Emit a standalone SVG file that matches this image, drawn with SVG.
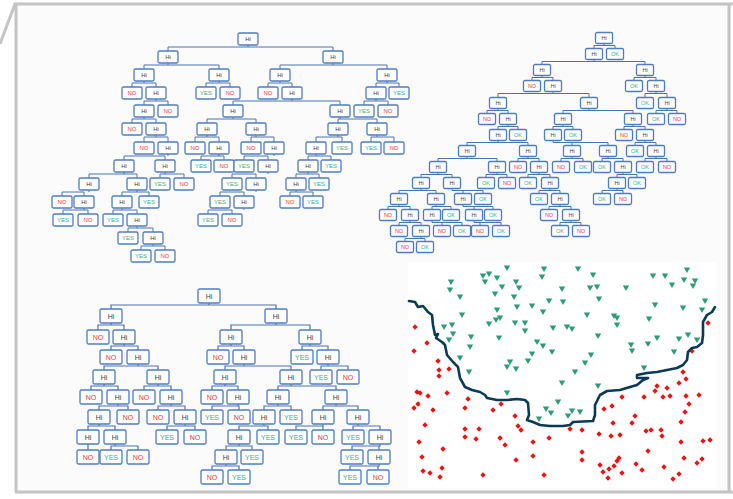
<svg xmlns="http://www.w3.org/2000/svg" xmlns:xlink="http://www.w3.org/1999/xlink" width="733" height="499" viewBox="0 0 733 499">
<style>
text{font-family:"Liberation Sans",Arial,sans-serif;text-anchor:middle;dominant-baseline:central}
.t1 text{font-size:6px}.t2 text{font-size:5.5px}.t3 text{font-size:7px}
.h{fill:#3a3a3a}.r{fill:#ff3434}.g{fill:#35b08a}
.bx{fill:#fff;stroke:#4d7cc2;stroke-width:1.3}
.c{fill:none;stroke:#4a74b4;stroke-width:1}
.fr{fill:none;stroke:#c4c4c4;stroke-width:3}
.tri{fill:#2a9d78}.dia{fill:#f21010}
</style>
<defs>
<rect id="b1" class="bx" x="-10" y="-6" width="20" height="12" rx="1.5"/>
<rect id="b2" class="bx" x="-8.5" y="-5.5" width="17" height="11" rx="1.5"/>
<rect id="b3" class="bx" x="-11" y="-7" width="22" height="14" rx="1.5"/>
<path id="tv" d="M-3.2,-2.6H3.2L0,2.9Z"/>
<path id="dm" d="M0,-2.7L2.7,0L0,2.7L-2.7,0Z"/>
</defs>
<rect width="733" height="499" fill="#fff"/>
<rect x="16" y="4" width="712" height="488" fill="#fbfbfb"/>
<rect x="408" y="262" width="309" height="226" fill="#fff"/>
<g id="frame" class="fr">
<path d="M0 44L15 4H733M16 4V492M15 492H733M729 4V492"/>
</g>

<g id="connectors-tree1" class="c">
<path d="M248 45V47M168 51V47H333V51"/>
<path d="M168 63V65M144 69V65H219V69"/>
<path d="M333 63V65M280 69V65H387V69"/>
<path d="M144 81V83M132 87V83H156V87"/>
<path d="M219 81V83M206 87V83H230V87"/>
<path d="M280 81V83M268 87V83H292V87"/>
<path d="M387 81V83M376 87V83H399V87"/>
<path d="M156 99V101M144 105V101H168V105"/>
<path d="M292 99V101M233 105V101H340V105"/>
<path d="M376 99V101M364 105V101H388V105"/>
<path d="M144 117V119M132 123V119H156V123"/>
<path d="M233 117V119M207 123V119H256V123"/>
<path d="M340 117V119M338 123V119H377V123"/>
<path d="M156 135V137M144 142V137H168V142"/>
<path d="M207 135V137M195 142V137H219V142"/>
<path d="M256 135V137M251 142V137H274V142"/>
<path d="M338 135V137M316 142V137H342V142"/>
<path d="M377 135V137M371 142V137H394V142"/>
<path d="M168 154V156M124 160V156H165V160"/>
<path d="M219 154V156M201 160V156H224V160"/>
<path d="M274 154V156M244 160V156H268V160"/>
<path d="M316 154V156M308 160V156H331V160"/>
<path d="M124 172V174M89 178V174H137V178"/>
<path d="M165 172V174M160 178V174H184V178"/>
<path d="M268 172V174M232 178V174H256V178"/>
<path d="M308 172V174M296 178V174H319V178"/>
<path d="M89 190V192M62 196V192H84V196"/>
<path d="M137 190V192M122 196V192H149V196"/>
<path d="M256 190V192M220 196V192H244V196"/>
<path d="M296 190V192M290 196V192H313V196"/>
<path d="M84 208V210M63 214V210H88V214"/>
<path d="M122 208V210M113 214V210H137V214"/>
<path d="M244 208V210M208 214V210H232V214"/>
<path d="M137 226V228M128 232V228H153V232"/>
<path d="M153 244V246M141 250V246H165V250"/>
</g>

<g id="connectors-tree2" class="c">
<path d="M604 43.5V45.5M594 48.5V45.5H615V48.5"/>
<path d="M594 59.5V61.5M542 64.5V61.5H645V64.5"/>
<path d="M542 75.5V77.5M532 80.5V77.5H553V80.5"/>
<path d="M645 75.5V77.5M634 80.5V77.5H656V80.5"/>
<path d="M553 91.5V93.5M498 97.5V93.5H589V97.5"/>
<path d="M656 91.5V93.5M645 97.5V93.5H667V97.5"/>
<path d="M498 108.5V110.5M487 113.5V110.5H508V113.5"/>
<path d="M589 108.5V110.5M563 113.5V110.5H633V113.5"/>
<path d="M667 108.5V110.5M656 113.5V110.5H677V113.5"/>
<path d="M508 124.5V126.5M498 129.5V126.5H518V129.5"/>
<path d="M563 124.5V126.5M553 129.5V126.5H573V129.5"/>
<path d="M633 124.5V126.5M624 129.5V126.5H645V129.5"/>
<path d="M498 140.5V142.5M467 145.5V142.5H528V145.5"/>
<path d="M553 140.5V142.5H608V145.5M572 142.5V145.5"/>
<path d="M645 140.5V142.5M635 145.5V142.5H656V145.5"/>
<path d="M467 156.5V158.5M438 161.5V158.5H497V161.5"/>
<path d="M528 156.5V158.5M518 161.5V158.5H539V161.5"/>
<path d="M572 156.5V158.5M561 161.5V158.5H583V161.5"/>
<path d="M608 156.5V158.5M602 161.5V158.5H623V161.5"/>
<path d="M656 156.5V158.5M645 161.5V158.5H667V161.5"/>
<path d="M438 172.5V174.5M421 177.5V174.5H452V177.5"/>
<path d="M497 172.5V174.5M486 177.5V174.5H507V177.5"/>
<path d="M539 172.5V174.5M528 177.5V174.5H550V177.5"/>
<path d="M623 172.5V174.5M617 177.5V174.5H637V177.5"/>
<path d="M421 188.5V190.5M399 193.5V190.5H436V193.5"/>
<path d="M452 188.5V190.5H483V193.5M463 190.5V193.5"/>
<path d="M550 188.5V190.5M539 193.5V190.5H560V193.5"/>
<path d="M617 188.5V190.5M602 193.5V190.5H623V193.5"/>
<path d="M399 204.5V206.5M388 209.5V206.5H410V209.5"/>
<path d="M436 204.5V206.5M432 209.5V206.5H451V209.5"/>
<path d="M463 204.5V206.5H493V209.5M474 206.5V209.5"/>
<path d="M560 204.5V206.5M549 209.5V206.5H571V209.5"/>
<path d="M410 220.5V222.5M399 225.5V222.5H421V225.5"/>
<path d="M432 220.5V222.5H462V225.5M442 222.5V225.5"/>
<path d="M474 220.5V222.5H501V225.5M480 222.5V225.5"/>
<path d="M571 220.5V222.5M560 225.5V222.5H581V225.5"/>
<path d="M421 236.5V238.5M405 241.5V238.5H425V241.5"/>
</g>

<g id="connectors-tree3" class="c" style="stroke-width:1.2">
<path d="M209 303V305M111 309V305H276V309"/>
<path d="M111 323V325M98 330V325H124V330"/>
<path d="M276 323V325M231 330V325H310V330"/>
<path d="M124 344V346M111 350V346H138V350"/>
<path d="M231 344V346M218 350V346H244V350"/>
<path d="M310 344V346M302 350V346H328V350"/>
<path d="M138 364V366M104 370V366H158V370"/>
<path d="M244 364V366M225 370V366H291V370"/>
<path d="M328 364V366M321 370V366H348V370"/>
<path d="M104 384V386M91 390V386H118V390"/>
<path d="M158 384V386M144 390V386H171V390"/>
<path d="M225 384V386M212 390V386H238V390"/>
<path d="M291 384V386M278 390V386H336V390"/>
<path d="M118 404V406M99 410V406H128V410"/>
<path d="M171 404V406M158 410V406H185V410"/>
<path d="M238 404V406M212 410V406H239V410"/>
<path d="M278 404V406M264 410V406H291V410"/>
<path d="M336 404V406M323 410V406H358V410"/>
<path d="M99 424V426M88 430V426H115V430"/>
<path d="M185 424V426M167 430V426H195V430"/>
<path d="M264 424V426M239 430V426H268V430"/>
<path d="M323 424V426M296 430V426H323V430"/>
<path d="M358 424V426M353 430V426H380V430"/>
<path d="M88 444V450"/>
<path d="M115 444V446M111 450V446H138V450"/>
<path d="M239 444V446M226 450V446H252V450"/>
<path d="M380 444V446H352V450M379 446V450"/>
<path d="M226 464V466M212 470V466H239V470"/>
<path d="M379 464V466H350V470M378 466V470"/>
</g>

<g id="tree1" class="t1">
<g id="t1-1" transform="translate(248,39)"><use href="#b1"/><text class="h">Hi</text></g>
<g id="t1-2" transform="translate(168,57)"><use href="#b1"/><text class="h">Hi</text></g>
<g id="t1-3" transform="translate(333,57)"><use href="#b1"/><text class="h">Hi</text></g>
<g id="t1-4" transform="translate(144,75)"><use href="#b1"/><text class="h">Hi</text></g>
<g id="t1-5" transform="translate(219,75)"><use href="#b1"/><text class="h">Hi</text></g>
<g id="t1-6" transform="translate(280,75)"><use href="#b1"/><text class="h">Hi</text></g>
<g id="t1-7" transform="translate(387,75)"><use href="#b1"/><text class="h">Hi</text></g>
<g id="t1-8" transform="translate(132,93)"><use href="#b1"/><text class="r">NO</text></g>
<g id="t1-9" transform="translate(156,93)"><use href="#b1"/><text class="h">Hi</text></g>
<g id="t1-10" transform="translate(206,93)"><use href="#b1"/><text class="g">YES</text></g>
<g id="t1-11" transform="translate(230,93)"><use href="#b1"/><text class="r">NO</text></g>
<g id="t1-12" transform="translate(268,93)"><use href="#b1"/><text class="r">NO</text></g>
<g id="t1-13" transform="translate(292,93)"><use href="#b1"/><text class="h">Hi</text></g>
<g id="t1-14" transform="translate(376,93)"><use href="#b1"/><text class="h">Hi</text></g>
<g id="t1-15" transform="translate(399,93)"><use href="#b1"/><text class="g">YES</text></g>
<g id="t1-16" transform="translate(144,111)"><use href="#b1"/><text class="h">Hi</text></g>
<g id="t1-17" transform="translate(168,111)"><use href="#b1"/><text class="r">NO</text></g>
<g id="t1-18" transform="translate(233,111)"><use href="#b1"/><text class="h">Hi</text></g>
<g id="t1-19" transform="translate(340,111)"><use href="#b1"/><text class="h">Hi</text></g>
<g id="t1-20" transform="translate(364,111)"><use href="#b1"/><text class="g">YES</text></g>
<g id="t1-21" transform="translate(388,111)"><use href="#b1"/><text class="r">NO</text></g>
<g id="t1-22" transform="translate(132,129)"><use href="#b1"/><text class="r">NO</text></g>
<g id="t1-23" transform="translate(156,129)"><use href="#b1"/><text class="h">Hi</text></g>
<g id="t1-24" transform="translate(207,129)"><use href="#b1"/><text class="h">Hi</text></g>
<g id="t1-25" transform="translate(256,129)"><use href="#b1"/><text class="h">Hi</text></g>
<g id="t1-26" transform="translate(338,129)"><use href="#b1"/><text class="h">Hi</text></g>
<g id="t1-27" transform="translate(377,129)"><use href="#b1"/><text class="h">Hi</text></g>
<g id="t1-28" transform="translate(144,148)"><use href="#b1"/><text class="r">NO</text></g>
<g id="t1-29" transform="translate(168,148)"><use href="#b1"/><text class="h">Hi</text></g>
<g id="t1-30" transform="translate(195,148)"><use href="#b1"/><text class="r">NO</text></g>
<g id="t1-31" transform="translate(219,148)"><use href="#b1"/><text class="h">Hi</text></g>
<g id="t1-32" transform="translate(251,148)"><use href="#b1"/><text class="r">NO</text></g>
<g id="t1-33" transform="translate(274,148)"><use href="#b1"/><text class="h">Hi</text></g>
<g id="t1-34" transform="translate(316,148)"><use href="#b1"/><text class="h">Hi</text></g>
<g id="t1-35" transform="translate(342,148)"><use href="#b1"/><text class="g">YES</text></g>
<g id="t1-36" transform="translate(371,148)"><use href="#b1"/><text class="g">YES</text></g>
<g id="t1-37" transform="translate(394,148)"><use href="#b1"/><text class="r">NO</text></g>
<g id="t1-38" transform="translate(124,166)"><use href="#b1"/><text class="h">Hi</text></g>
<g id="t1-39" transform="translate(165,166)"><use href="#b1"/><text class="h">Hi</text></g>
<g id="t1-40" transform="translate(201,166)"><use href="#b1"/><text class="g">YES</text></g>
<g id="t1-41" transform="translate(224,166)"><use href="#b1"/><text class="r">NO</text></g>
<g id="t1-42" transform="translate(244,166)"><use href="#b1"/><text class="g">YES</text></g>
<g id="t1-43" transform="translate(268,166)"><use href="#b1"/><text class="h">Hi</text></g>
<g id="t1-44" transform="translate(308,166)"><use href="#b1"/><text class="h">Hi</text></g>
<g id="t1-45" transform="translate(331,166)"><use href="#b1"/><text class="g">YES</text></g>
<g id="t1-46" transform="translate(89,184)"><use href="#b1"/><text class="h">Hi</text></g>
<g id="t1-47" transform="translate(137,184)"><use href="#b1"/><text class="h">Hi</text></g>
<g id="t1-48" transform="translate(160,184)"><use href="#b1"/><text class="g">YES</text></g>
<g id="t1-49" transform="translate(184,184)"><use href="#b1"/><text class="r">NO</text></g>
<g id="t1-50" transform="translate(232,184)"><use href="#b1"/><text class="g">YES</text></g>
<g id="t1-51" transform="translate(256,184)"><use href="#b1"/><text class="h">Hi</text></g>
<g id="t1-52" transform="translate(296,184)"><use href="#b1"/><text class="h">Hi</text></g>
<g id="t1-53" transform="translate(319,184)"><use href="#b1"/><text class="g">YES</text></g>
<g id="t1-54" transform="translate(62,202)"><use href="#b1"/><text class="r">NO</text></g>
<g id="t1-55" transform="translate(84,202)"><use href="#b1"/><text class="h">Hi</text></g>
<g id="t1-56" transform="translate(122,202)"><use href="#b1"/><text class="h">Hi</text></g>
<g id="t1-57" transform="translate(149,202)"><use href="#b1"/><text class="g">YES</text></g>
<g id="t1-58" transform="translate(220,202)"><use href="#b1"/><text class="g">YES</text></g>
<g id="t1-59" transform="translate(244,202)"><use href="#b1"/><text class="h">Hi</text></g>
<g id="t1-60" transform="translate(290,202)"><use href="#b1"/><text class="r">NO</text></g>
<g id="t1-61" transform="translate(313,202)"><use href="#b1"/><text class="g">YES</text></g>
<g id="t1-62" transform="translate(63,220)"><use href="#b1"/><text class="g">YES</text></g>
<g id="t1-63" transform="translate(88,220)"><use href="#b1"/><text class="r">NO</text></g>
<g id="t1-64" transform="translate(113,220)"><use href="#b1"/><text class="g">YES</text></g>
<g id="t1-65" transform="translate(137,220)"><use href="#b1"/><text class="h">Hi</text></g>
<g id="t1-66" transform="translate(208,220)"><use href="#b1"/><text class="g">YES</text></g>
<g id="t1-67" transform="translate(232,220)"><use href="#b1"/><text class="r">NO</text></g>
<g id="t1-68" transform="translate(128,238)"><use href="#b1"/><text class="g">YES</text></g>
<g id="t1-69" transform="translate(153,238)"><use href="#b1"/><text class="h">Hi</text></g>
<g id="t1-70" transform="translate(141,256)"><use href="#b1"/><text class="g">YES</text></g>
<g id="t1-71" transform="translate(165,256)"><use href="#b1"/><text class="r">NO</text></g>
</g>

<g id="tree2" class="t2">
<g id="t2-a" transform="translate(604,38)"><use href="#b2"/><text class="h">Hi</text></g>
<g id="t2-b" transform="translate(594,54)"><use href="#b2"/><text class="h">Hi</text></g>
<g id="t2-c" transform="translate(615,54)"><use href="#b2"/><text class="g">OK</text></g>
<g id="t2-d" transform="translate(542,70)"><use href="#b2"/><text class="h">Hi</text></g>
<g id="t2-e" transform="translate(645,70)"><use href="#b2"/><text class="h">Hi</text></g>
<g id="t2-f" transform="translate(532,86)"><use href="#b2"/><text class="r">NO</text></g>
<g id="t2-g" transform="translate(553,86)"><use href="#b2"/><text class="h">Hi</text></g>
<g id="t2-h" transform="translate(634,86)"><use href="#b2"/><text class="g">OK</text></g>
<g id="t2-i" transform="translate(656,86)"><use href="#b2"/><text class="h">Hi</text></g>
<g id="t2-j" transform="translate(498,103)"><use href="#b2"/><text class="h">Hi</text></g>
<g id="t2-k" transform="translate(589,103)"><use href="#b2"/><text class="h">Hi</text></g>
<g id="t2-l" transform="translate(645,103)"><use href="#b2"/><text class="g">OK</text></g>
<g id="t2-m" transform="translate(667,103)"><use href="#b2"/><text class="h">Hi</text></g>
<g id="t2-n" transform="translate(487,119)"><use href="#b2"/><text class="r">NO</text></g>
<g id="t2-o" transform="translate(508,119)"><use href="#b2"/><text class="h">Hi</text></g>
<g id="t2-p" transform="translate(563,119)"><use href="#b2"/><text class="h">Hi</text></g>
<g id="t2-q" transform="translate(633,119)"><use href="#b2"/><text class="h">Hi</text></g>
<g id="t2-r" transform="translate(656,119)"><use href="#b2"/><text class="g">OK</text></g>
<g id="t2-s" transform="translate(677,119)"><use href="#b2"/><text class="r">NO</text></g>
<g id="t2-t" transform="translate(498,135)"><use href="#b2"/><text class="h">Hi</text></g>
<g id="t2-u" transform="translate(518,135)"><use href="#b2"/><text class="g">OK</text></g>
<g id="t2-v" transform="translate(553,135)"><use href="#b2"/><text class="h">Hi</text></g>
<g id="t2-w" transform="translate(573,135)"><use href="#b2"/><text class="g">OK</text></g>
<g id="t2-x" transform="translate(624,135)"><use href="#b2"/><text class="r">NO</text></g>
<g id="t2-y" transform="translate(645,135)"><use href="#b2"/><text class="h">Hi</text></g>
<g id="t2-A" transform="translate(467,151)"><use href="#b2"/><text class="h">Hi</text></g>
<g id="t2-B" transform="translate(528,151)"><use href="#b2"/><text class="h">Hi</text></g>
<g id="t2-C" transform="translate(572,151)"><use href="#b2"/><text class="h">Hi</text></g>
<g id="t2-D" transform="translate(608,151)"><use href="#b2"/><text class="h">Hi</text></g>
<g id="t2-E" transform="translate(635,151)"><use href="#b2"/><text class="g">OK</text></g>
<g id="t2-F" transform="translate(656,151)"><use href="#b2"/><text class="h">Hi</text></g>
<g id="t2-G" transform="translate(438,167)"><use href="#b2"/><text class="h">Hi</text></g>
<g id="t2-H" transform="translate(497,167)"><use href="#b2"/><text class="h">Hi</text></g>
<g id="t2-I" transform="translate(518,167)"><use href="#b2"/><text class="r">NO</text></g>
<g id="t2-J" transform="translate(539,167)"><use href="#b2"/><text class="h">Hi</text></g>
<g id="t2-K" transform="translate(561,167)"><use href="#b2"/><text class="r">NO</text></g>
<g id="t2-L" transform="translate(583,167)"><use href="#b2"/><text class="g">OK</text></g>
<g id="t2-M" transform="translate(602,167)"><use href="#b2"/><text class="g">OK</text></g>
<g id="t2-N" transform="translate(623,167)"><use href="#b2"/><text class="h">Hi</text></g>
<g id="t2-O" transform="translate(645,167)"><use href="#b2"/><text class="g">OK</text></g>
<g id="t2-P" transform="translate(667,167)"><use href="#b2"/><text class="r">NO</text></g>
<g id="t2-Q" transform="translate(421,183)"><use href="#b2"/><text class="h">Hi</text></g>
<g id="t2-R" transform="translate(452,183)"><use href="#b2"/><text class="h">Hi</text></g>
<g id="t2-S" transform="translate(486,183)"><use href="#b2"/><text class="g">OK</text></g>
<g id="t2-T" transform="translate(507,183)"><use href="#b2"/><text class="r">NO</text></g>
<g id="t2-U" transform="translate(528,183)"><use href="#b2"/><text class="g">OK</text></g>
<g id="t2-V" transform="translate(550,183)"><use href="#b2"/><text class="h">Hi</text></g>
<g id="t2-W" transform="translate(617,183)"><use href="#b2"/><text class="h">Hi</text></g>
<g id="t2-X" transform="translate(637,183)"><use href="#b2"/><text class="g">OK</text></g>
<g id="t2-Y" transform="translate(399,199)"><use href="#b2"/><text class="h">Hi</text></g>
<g id="t2-Z" transform="translate(436,199)"><use href="#b2"/><text class="h">Hi</text></g>
<g id="t2-AA" transform="translate(463,199)"><use href="#b2"/><text class="h">Hi</text></g>
<g id="t2-AB" transform="translate(483,199)"><use href="#b2"/><text class="g">OK</text></g>
<g id="t2-AC" transform="translate(539,199)"><use href="#b2"/><text class="g">OK</text></g>
<g id="t2-AD" transform="translate(560,199)"><use href="#b2"/><text class="h">Hi</text></g>
<g id="t2-AE" transform="translate(602,199)"><use href="#b2"/><text class="g">OK</text></g>
<g id="t2-AF" transform="translate(623,199)"><use href="#b2"/><text class="r">NO</text></g>
<g id="t2-AG" transform="translate(388,215)"><use href="#b2"/><text class="r">NO</text></g>
<g id="t2-AH" transform="translate(410,215)"><use href="#b2"/><text class="h">Hi</text></g>
<g id="t2-AI" transform="translate(432,215)"><use href="#b2"/><text class="h">Hi</text></g>
<g id="t2-AJ" transform="translate(451,215)"><use href="#b2"/><text class="g">OK</text></g>
<g id="t2-AK" transform="translate(474,215)"><use href="#b2"/><text class="h">Hi</text></g>
<g id="t2-AL" transform="translate(493,215)"><use href="#b2"/><text class="g">OK</text></g>
<g id="t2-AM" transform="translate(549,215)"><use href="#b2"/><text class="r">NO</text></g>
<g id="t2-AN" transform="translate(571,215)"><use href="#b2"/><text class="h">Hi</text></g>
<g id="t2-AO" transform="translate(399,231)"><use href="#b2"/><text class="r">NO</text></g>
<g id="t2-AP" transform="translate(421,231)"><use href="#b2"/><text class="h">Hi</text></g>
<g id="t2-AQ" transform="translate(442,231)"><use href="#b2"/><text class="r">NO</text></g>
<g id="t2-AR" transform="translate(462,231)"><use href="#b2"/><text class="g">OK</text></g>
<g id="t2-AS" transform="translate(480,231)"><use href="#b2"/><text class="r">NO</text></g>
<g id="t2-AT" transform="translate(501,231)"><use href="#b2"/><text class="g">OK</text></g>
<g id="t2-AU" transform="translate(560,231)"><use href="#b2"/><text class="g">OK</text></g>
<g id="t2-AV" transform="translate(581,231)"><use href="#b2"/><text class="r">NO</text></g>
<g id="t2-AW" transform="translate(405,247)"><use href="#b2"/><text class="r">NO</text></g>
<g id="t2-AX" transform="translate(425,247)"><use href="#b2"/><text class="g">OK</text></g>
</g>

<g id="tree3" class="t3">
<g id="t3-1" transform="translate(209,296)"><use href="#b3"/><text class="h">Hi</text></g>
<g id="t3-2" transform="translate(111,316)"><use href="#b3"/><text class="h">Hi</text></g>
<g id="t3-3" transform="translate(276,316)"><use href="#b3"/><text class="h">Hi</text></g>
<g id="t3-4" transform="translate(98,337)"><use href="#b3"/><text class="r">NO</text></g>
<g id="t3-5" transform="translate(124,337)"><use href="#b3"/><text class="h">Hi</text></g>
<g id="t3-6" transform="translate(231,337)"><use href="#b3"/><text class="h">Hi</text></g>
<g id="t3-7" transform="translate(310,337)"><use href="#b3"/><text class="h">Hi</text></g>
<g id="t3-8" transform="translate(111,357)"><use href="#b3"/><text class="r">NO</text></g>
<g id="t3-9" transform="translate(138,357)"><use href="#b3"/><text class="h">Hi</text></g>
<g id="t3-10" transform="translate(218,357)"><use href="#b3"/><text class="r">NO</text></g>
<g id="t3-11" transform="translate(244,357)"><use href="#b3"/><text class="h">Hi</text></g>
<g id="t3-12" transform="translate(302,357)"><use href="#b3"/><text class="g">YES</text></g>
<g id="t3-13" transform="translate(328,357)"><use href="#b3"/><text class="h">Hi</text></g>
<g id="t3-14" transform="translate(104,377)"><use href="#b3"/><text class="h">Hi</text></g>
<g id="t3-15" transform="translate(158,377)"><use href="#b3"/><text class="h">Hi</text></g>
<g id="t3-16" transform="translate(225,377)"><use href="#b3"/><text class="h">Hi</text></g>
<g id="t3-17" transform="translate(291,377)"><use href="#b3"/><text class="h">Hi</text></g>
<g id="t3-18" transform="translate(321,377)"><use href="#b3"/><text class="g">YES</text></g>
<g id="t3-19" transform="translate(348,377)"><use href="#b3"/><text class="r">NO</text></g>
<g id="t3-20" transform="translate(91,397)"><use href="#b3"/><text class="r">NO</text></g>
<g id="t3-21" transform="translate(118,397)"><use href="#b3"/><text class="h">Hi</text></g>
<g id="t3-22" transform="translate(144,397)"><use href="#b3"/><text class="r">NO</text></g>
<g id="t3-23" transform="translate(171,397)"><use href="#b3"/><text class="h">Hi</text></g>
<g id="t3-24" transform="translate(212,397)"><use href="#b3"/><text class="r">NO</text></g>
<g id="t3-25" transform="translate(238,397)"><use href="#b3"/><text class="h">Hi</text></g>
<g id="t3-26" transform="translate(278,397)"><use href="#b3"/><text class="h">Hi</text></g>
<g id="t3-27" transform="translate(336,397)"><use href="#b3"/><text class="h">Hi</text></g>
<g id="t3-28" transform="translate(99,417)"><use href="#b3"/><text class="h">Hi</text></g>
<g id="t3-29" transform="translate(128,417)"><use href="#b3"/><text class="r">NO</text></g>
<g id="t3-30" transform="translate(158,417)"><use href="#b3"/><text class="r">NO</text></g>
<g id="t3-31" transform="translate(185,417)"><use href="#b3"/><text class="h">Hi</text></g>
<g id="t3-32" transform="translate(212,417)"><use href="#b3"/><text class="g">YES</text></g>
<g id="t3-33" transform="translate(239,417)"><use href="#b3"/><text class="r">NO</text></g>
<g id="t3-34" transform="translate(264,417)"><use href="#b3"/><text class="h">Hi</text></g>
<g id="t3-35" transform="translate(291,417)"><use href="#b3"/><text class="g">YES</text></g>
<g id="t3-36" transform="translate(323,417)"><use href="#b3"/><text class="h">Hi</text></g>
<g id="t3-37" transform="translate(358,417)"><use href="#b3"/><text class="h">Hi</text></g>
<g id="t3-38" transform="translate(88,437)"><use href="#b3"/><text class="h">Hi</text></g>
<g id="t3-39" transform="translate(115,437)"><use href="#b3"/><text class="h">Hi</text></g>
<g id="t3-40" transform="translate(167,437)"><use href="#b3"/><text class="g">YES</text></g>
<g id="t3-41" transform="translate(195,437)"><use href="#b3"/><text class="r">NO</text></g>
<g id="t3-42" transform="translate(239,437)"><use href="#b3"/><text class="h">Hi</text></g>
<g id="t3-43" transform="translate(268,437)"><use href="#b3"/><text class="g">YES</text></g>
<g id="t3-44" transform="translate(296,437)"><use href="#b3"/><text class="g">YES</text></g>
<g id="t3-45" transform="translate(323,437)"><use href="#b3"/><text class="r">NO</text></g>
<g id="t3-46" transform="translate(353,437)"><use href="#b3"/><text class="g">YES</text></g>
<g id="t3-47" transform="translate(380,437)"><use href="#b3"/><text class="h">Hi</text></g>
<g id="t3-48" transform="translate(88,457)"><use href="#b3"/><text class="r">NO</text></g>
<g id="t3-49" transform="translate(111,457)"><use href="#b3"/><text class="g">YES</text></g>
<g id="t3-50" transform="translate(138,457)"><use href="#b3"/><text class="r">NO</text></g>
<g id="t3-51" transform="translate(226,457)"><use href="#b3"/><text class="h">Hi</text></g>
<g id="t3-52" transform="translate(252,457)"><use href="#b3"/><text class="g">YES</text></g>
<g id="t3-53" transform="translate(352,457)"><use href="#b3"/><text class="g">YES</text></g>
<g id="t3-54" transform="translate(379,457)"><use href="#b3"/><text class="h">Hi</text></g>
<g id="t3-55" transform="translate(212,477)"><use href="#b3"/><text class="r">NO</text></g>
<g id="t3-56" transform="translate(239,477)"><use href="#b3"/><text class="g">YES</text></g>
<g id="t3-57" transform="translate(350,477)"><use href="#b3"/><text class="g">YES</text></g>
<g id="t3-58" transform="translate(378,477)"><use href="#b3"/><text class="r">NO</text></g>
</g>

<g id="scatter">
<g class="tri">
<use href="#tv" x="451" y="282"/><use href="#tv" x="450" y="290"/><use href="#tv" x="460" y="297"/><use href="#tv" x="483" y="276"/><use href="#tv" x="489" y="274"/><use href="#tv" x="485" y="282"/><use href="#tv" x="497" y="278"/><use href="#tv" x="502" y="287"/><use href="#tv" x="495" y="294"/><use href="#tv" x="507" y="268"/><use href="#tv" x="516" y="282"/><use href="#tv" x="519" y="288"/><use href="#tv" x="514" y="297"/><use href="#tv" x="544" y="269"/><use href="#tv" x="542" y="277"/><use href="#tv" x="562" y="289"/><use href="#tv" x="578" y="269"/><use href="#tv" x="593" y="275"/><use href="#tv" x="590" y="288"/><use href="#tv" x="597" y="287"/><use href="#tv" x="599" y="299"/><use href="#tv" x="626" y="288"/><use href="#tv" x="653" y="276"/><use href="#tv" x="665" y="276"/><use href="#tv" x="672" y="285"/><use href="#tv" x="687" y="270"/><use href="#tv" x="684" y="280"/><use href="#tv" x="695" y="281"/><use href="#tv" x="693" y="286"/><use href="#tv" x="705" y="301"/><use href="#tv" x="655" y="305"/><use href="#tv" x="683" y="308"/><use href="#tv" x="702" y="310"/><use href="#tv" x="497" y="310"/><use href="#tv" x="517" y="307"/><use href="#tv" x="532" y="306"/><use href="#tv" x="543" y="312"/><use href="#tv" x="549" y="301"/><use href="#tv" x="563" y="302"/><use href="#tv" x="462" y="315"/><use href="#tv" x="444" y="327"/><use href="#tv" x="452" y="325"/><use href="#tv" x="453" y="334"/><use href="#tv" x="449" y="340"/><use href="#tv" x="471" y="337"/><use href="#tv" x="470" y="347"/><use href="#tv" x="489" y="324"/><use href="#tv" x="496" y="320"/><use href="#tv" x="500" y="318"/><use href="#tv" x="515" y="323"/><use href="#tv" x="525" y="323"/><use href="#tv" x="525" y="331"/><use href="#tv" x="499" y="338"/><use href="#tv" x="553" y="328"/><use href="#tv" x="567" y="327"/><use href="#tv" x="572" y="329"/><use href="#tv" x="587" y="315"/><use href="#tv" x="614" y="316"/><use href="#tv" x="617" y="318"/><use href="#tv" x="617" y="325"/><use href="#tv" x="649" y="319"/><use href="#tv" x="598" y="336"/><use href="#tv" x="537" y="342"/><use href="#tv" x="543" y="346"/><use href="#tv" x="552" y="352"/><use href="#tv" x="532" y="354"/><use href="#tv" x="528" y="361"/><use href="#tv" x="510" y="362"/><use href="#tv" x="507" y="367"/><use href="#tv" x="516" y="369"/><use href="#tv" x="591" y="355"/><use href="#tv" x="585" y="363"/><use href="#tv" x="575" y="372"/><use href="#tv" x="562" y="383"/><use href="#tv" x="598" y="386"/><use href="#tv" x="460" y="358"/><use href="#tv" x="469" y="372"/><use href="#tv" x="507" y="393"/><use href="#tv" x="558" y="402"/><use href="#tv" x="546" y="409"/><use href="#tv" x="551" y="413"/><use href="#tv" x="539" y="419"/><use href="#tv" x="568" y="416"/><use href="#tv" x="572" y="411"/><use href="#tv" x="580" y="412"/><use href="#tv" x="631" y="345"/><use href="#tv" x="632" y="351"/><use href="#tv" x="648" y="344"/><use href="#tv" x="657" y="338"/><use href="#tv" x="679" y="339"/><use href="#tv" x="688" y="335"/><use href="#tv" x="697" y="340"/><use href="#tv" x="674" y="352"/><use href="#tv" x="644" y="368"/>
</g>
<g class="dia">
<use href="#dm" x="415" y="327"/><use href="#dm" x="427" y="343"/><use href="#dm" x="414" y="351"/><use href="#dm" x="438" y="361"/><use href="#dm" x="439" y="370"/><use href="#dm" x="439" y="376"/><use href="#dm" x="449" y="369"/><use href="#dm" x="417" y="392"/><use href="#dm" x="420" y="393"/><use href="#dm" x="428" y="396"/><use href="#dm" x="447" y="393"/><use href="#dm" x="414" y="408"/><use href="#dm" x="418" y="404"/><use href="#dm" x="433" y="410"/><use href="#dm" x="468" y="399"/><use href="#dm" x="465" y="408"/><use href="#dm" x="493" y="410"/><use href="#dm" x="501" y="404"/><use href="#dm" x="425" y="425"/><use href="#dm" x="465" y="429"/><use href="#dm" x="479" y="429"/><use href="#dm" x="465" y="437"/><use href="#dm" x="476" y="439"/><use href="#dm" x="500" y="438"/><use href="#dm" x="505" y="445"/><use href="#dm" x="515" y="416"/><use href="#dm" x="518" y="426"/><use href="#dm" x="521" y="430"/><use href="#dm" x="419" y="442"/><use href="#dm" x="443" y="449"/><use href="#dm" x="422" y="457"/><use href="#dm" x="423" y="471"/><use href="#dm" x="430" y="473"/><use href="#dm" x="442" y="468"/><use href="#dm" x="440" y="477"/><use href="#dm" x="483" y="475"/><use href="#dm" x="516" y="460"/><use href="#dm" x="533" y="442"/><use href="#dm" x="533" y="456"/><use href="#dm" x="544" y="475"/><use href="#dm" x="549" y="438"/><use href="#dm" x="570" y="429"/><use href="#dm" x="582" y="430"/><use href="#dm" x="599" y="434"/><use href="#dm" x="611" y="436"/><use href="#dm" x="620" y="435"/><use href="#dm" x="604" y="409"/><use href="#dm" x="612" y="406"/><use href="#dm" x="622" y="397"/><use href="#dm" x="613" y="423"/><use href="#dm" x="632" y="423"/><use href="#dm" x="635" y="416"/><use href="#dm" x="644" y="397"/><use href="#dm" x="646" y="431"/><use href="#dm" x="651" y="430"/><use href="#dm" x="661" y="430"/><use href="#dm" x="662" y="436"/><use href="#dm" x="655" y="391"/><use href="#dm" x="657" y="386"/><use href="#dm" x="667" y="388"/><use href="#dm" x="663" y="397"/><use href="#dm" x="670" y="396"/><use href="#dm" x="679" y="383"/><use href="#dm" x="683" y="372"/><use href="#dm" x="686" y="379"/><use href="#dm" x="686" y="396"/><use href="#dm" x="689" y="404"/><use href="#dm" x="699" y="395"/><use href="#dm" x="685" y="412"/><use href="#dm" x="681" y="422"/><use href="#dm" x="681" y="442"/><use href="#dm" x="703" y="441"/><use href="#dm" x="710" y="440"/><use href="#dm" x="684" y="458"/><use href="#dm" x="697" y="463"/><use href="#dm" x="702" y="459"/><use href="#dm" x="692" y="351"/><use href="#dm" x="708" y="323"/><use href="#dm" x="582" y="452"/><use href="#dm" x="582" y="460"/><use href="#dm" x="600" y="465"/><use href="#dm" x="603" y="472"/><use href="#dm" x="608" y="478"/><use href="#dm" x="609" y="469"/><use href="#dm" x="614" y="466"/><use href="#dm" x="617" y="461"/><use href="#dm" x="619" y="458"/><use href="#dm" x="622" y="473"/><use href="#dm" x="636" y="464"/><use href="#dm" x="642" y="470"/><use href="#dm" x="648" y="451"/><use href="#dm" x="664" y="467"/><use href="#dm" x="679" y="474"/><use href="#dm" x="673" y="479"/>
</g>
<path d="M409 301L415 302L418 307L423 306L428 312L432 315L433 325L435 335L438 334L436 338L442 342L445 345L447 355L453 362L458 367L460 378L465 387L472 390L480 392L485 395L487 398L497 400L507 400L517 399L525 400L528 403L529 415L527 420L533 422L540 425L550 426L563 426L570 425L573 422L593 421L595 415L595 405L600 395L607 391L620 390L630 387L637 385L643 380L648 378L637 378L637 375L647 373L657 372L667 370L677 368L683 365L687 360L688 352L692 348L697 347L702 343L703 335L703 322L707 315L712 312L715 307" fill="none" stroke="#0b3a57" stroke-width="2.6" stroke-linejoin="round" stroke-linecap="round"/>
</g>
</svg>
